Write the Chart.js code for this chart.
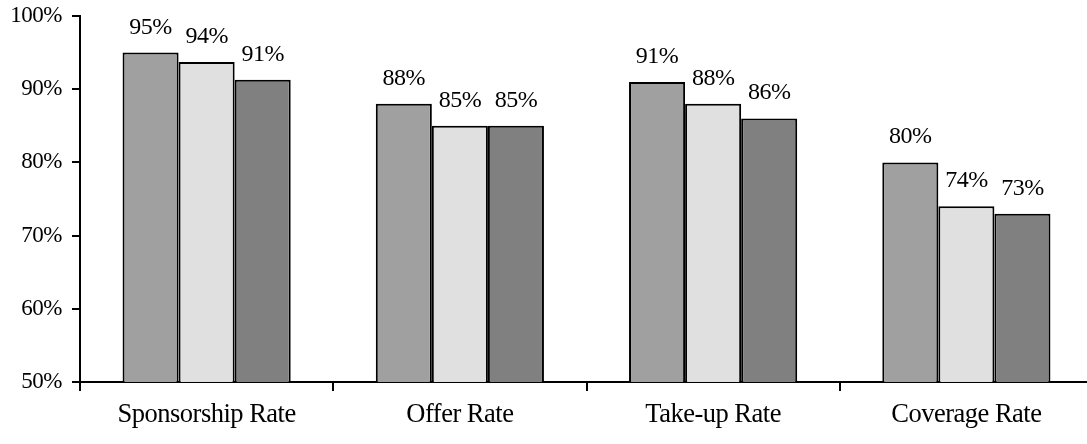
<!DOCTYPE html>
<html>
<head>
<meta charset="utf-8">
<script src="https://cdn.jsdelivr.net/npm/chart.js@4/dist/chart.umd.min.js"></script>
<style>
  html, body { margin: 0; padding: 0; background: #fff; overflow: hidden; }
  #wrap { width: 1100px; height: 444px; position: relative; }
</style>
</head>
<body>
<div id="wrap"><canvas id="chart"></canvas></div>
<script>
// Participation rates by category, three groups per category
const categories = ['Sponsorship Rate', 'Offer Rate', 'Take-up Rate', 'Coverage Rate'];
const seriesA = [95, 88, 91, 80];
const seriesB = [93.7, 85, 88, 74];
const seriesC = [91.3, 85, 86, 73];
const yTicks = [50, 60, 70, 80, 90, 100];

const FONT = "'Times New Roman', 'Liberation Serif', serif";
const TRACKING = '-0.5px';

// Tighter letter spacing for all text on the canvas
const tracking = {
  id: 'tracking',
  beforeUpdate(chart) { chart.ctx.letterSpacing = TRACKING; },
  beforeDraw(chart) { chart.ctx.letterSpacing = TRACKING; }
};

// Writes each bar's value (rounded, as a percentage) above the bar
const valueLabels = {
  id: 'valueLabels',
  afterDatasetsDraw(chart) {
    const ctx = chart.ctx;
    ctx.save();
    ctx.letterSpacing = TRACKING;
    ctx.font = '24px ' + FONT;
    ctx.fillStyle = '#000';
    ctx.textAlign = 'center';
    ctx.textBaseline = 'alphabetic';
    chart.data.datasets.forEach((ds, i) => {
      chart.getDatasetMeta(i).data.forEach((bar, j) => {
        ctx.fillText(Math.round(ds.data[j]) + '%', bar.x, bar.y - 19);
      });
    });
    ctx.restore();
  }
};

new Chart(document.getElementById('chart'), {
  type: 'bar',
  data: {
    labels: categories,
    datasets: [
      { data: seriesA, backgroundColor: '#a0a0a0' },
      { data: seriesB, backgroundColor: '#e0e0e0' },
      { data: seriesC, backgroundColor: '#808080' }
    ].map(d => Object.assign(d, {
      borderColor: '#000',
      borderWidth: 2,
      borderSkipped: 'bottom',
      categoryPercentage: 0.664,
      barPercentage: 1.0
    }))
  },
  options: {
    responsive: true,
    maintainAspectRatio: false,
    animation: false,
    layout: { padding: { left: 10, top: 16, right: 7, bottom: 0 } },
    plugins: { legend: { display: false }, tooltip: { enabled: false } },
    scales: {
      x: {
        offset: true,
        grid: {
          offset: true,
          display: true,
          drawOnChartArea: false,
          drawTicks: true,
          tickLength: 9,
          color: '#000',
          lineWidth: 2
        },
        border: { display: true, color: '#000', width: 2 },
        ticks: {
          color: '#000',
          font: { family: FONT, size: 26.5 },
          padding: 8,
          maxRotation: 0
        },
        afterFit(scale) { scale.height = 62; }
      },
      y: {
        min: 50,
        max: 100,
        afterBuildTicks(scale) { scale.ticks = yTicks.map(v => ({ value: v })); },
        grid: {
          display: true,
          drawOnChartArea: false,
          drawTicks: true,
          tickLength: 8,
          color: '#000',
          lineWidth: 2
        },
        border: { display: true, color: '#000', width: 2 },
        ticks: {
          color: '#000',
          font: { family: FONT, size: 23 },
          padding: 10,
          callback: v => v + '%'
        },
        afterFit(scale) {
          scale.width = 70;
          scale.paddingTop = 0;
          scale.paddingBottom = 0;
        }
      }
    }
  },
  plugins: [tracking, valueLabels]
});
</script>
</body>
</html>
